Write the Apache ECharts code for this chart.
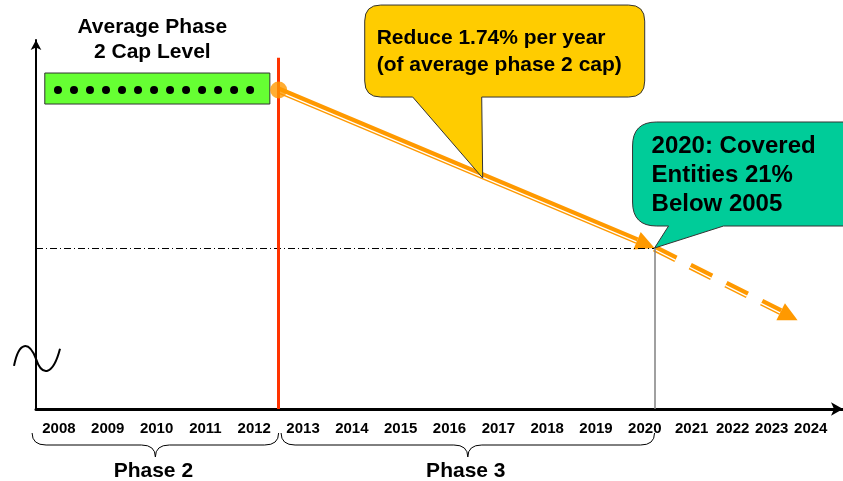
<!DOCTYPE html>
<html>
<head>
<meta charset="utf-8">
<script src="https://cdn.jsdelivr.net/npm/echarts@6/dist/echarts.min.js"></script>
<style>
html, body { margin: 0; padding: 0; background: #fff; }
#chart { width: 843px; height: 481px; }
</style>
</head>
<body>
<div id="chart"></div>
<script>
// year labels and where they sit on the axis (the last four are squeezed in the source picture)
const years = ['2008', '2009', '2010', '2011', '2012', '2013', '2014', '2015', '2016',
    '2017', '2018', '2019', '2020', '2021', '2022', '2023', '2024'];
const yearPos = [2008, 2009, 2010, 2011, 2012, 2013, 2014, 2015, 2016,
    2017, 2018, 2019, 2020, 2020.96, 2021.8, 2022.6, 2023.4];

const X_MIN = 2007.53, X_MAX = 2024.06;
const Y_MIN = 57.6, Y_MAX = 106.65;

// average phase 2 cap (index = 100)
const capLevel = 100;
const capSpan = [2007.71, 2012.32];
const capBand = [98.14, 102.26];
const capDots = [2007.98, 2011.93];

const phase2End = 2012.5;
const target2020 = [2020.2, 79];
// linear reduction, then the dashed outlook past 2020
const trend = [[2012.5, 100, 2020.2, 79]];
const outlook = [[2020.2, 79, 2023.13, 69.4]];

const phases = ['Phase 2', 'Phase 3'];
const phaseSpans = [[2007.45, 2012.5], [2012.55, 2020.2]];

const calloutText = ['Reduce 1.74% per year\n(of average phase 2 cap)', '2020: Covered\nEntities 21%\nBelow 2005'];
const calloutAt = [[2016.68, 88.3], [2020.2, 79]];

const breakAt = 64.4;

const FONT = '"Liberation Sans", Arial, sans-serif';
const ORANGE = '#FF9900';

// box geometry of each callout, relative to its pointer tip
const calloutBoxes = [
    {l: -118, t: -173, r: 162, b: -81, rad: 16, p0: -70, p1: -1, fill: '#FFCC00', size: 21, lh: 27, pad: 12},
    {l: -22, t: -126, r: 215, b: -22, rad: 24, p0: 14, p1: 69, fill: '#00CC99', size: 24, lh: 29, pad: 19}
];

function renderCallout(params, api) {
    const tip = api.coord([api.value(0), api.value(1)]);
    const c = calloutBoxes[params.dataIndex];
    const L = tip[0] + c.l, T = tip[1] + c.t, R = tip[0] + c.r, B = tip[1] + c.b, r = c.rad;
    const P0 = tip[0] + c.p0, P1 = tip[0] + c.p1;
    const d = `M${L + r},${T} L${R - r},${T} Q${R},${T} ${R},${T + r} L${R},${B - r} Q${R},${B} ${R - r},${B} ` +
        `L${P1},${B} L${tip[0]},${tip[1]} L${P0},${B} L${L + r},${B} Q${L},${B} ${L},${B - r} L${L},${T + r} Q${L},${T} ${L + r},${T} Z`;
    return {
        type: 'group',
        children: [
            {type: 'path', shape: {pathData: d}, style: {fill: c.fill, stroke: '#333', lineWidth: 1}},
            {type: 'text', style: {
                text: calloutText[params.dataIndex], x: L + c.pad, y: (T + B) / 2 + 1,
                verticalAlign: 'middle', textAlign: 'left', fill: '#000',
                font: `bold ${c.size}px ${FONT}`, lineHeight: c.lh
            }}
        ]
    };
}

function renderArrow(dashed) {
    return function (params, api) {
        const a = api.coord([api.value(0), api.value(1)]);
        const b = api.coord([api.value(2), api.value(3)]);
        const dx = b[0] - a[0], dy = b[1] - a[1], len = Math.hypot(dx, dy);
        const ux = dx / len, uy = dy / len;
        const head = 19, half = 9.5;
        const base = [b[0] - ux * head, b[1] - uy * head];
        const nx = -uy * 1.4, ny = ux * 1.4;
        const dash = dashed ? [24, 16] : null;
        return {
            type: 'group',
            children: [
                {type: 'line', shape: {x1: a[0], y1: a[1], x2: base[0], y2: base[1]},
                    style: {stroke: ORANGE, lineWidth: 7, lineDash: dash}},
                {type: 'line', shape: {x1: a[0] + nx, y1: a[1] + ny, x2: base[0] + nx, y2: base[1] + ny},
                    style: {stroke: '#fff', lineWidth: 1.3, lineDash: dash}},
                {type: 'polygon', shape: {points: [b, [base[0] - uy * half, base[1] + ux * half], [base[0] + uy * half, base[1] - ux * half]]},
                    style: {fill: ORANGE}}
            ]
        };
    };
}

function renderBrace(params, api) {
    const pa = api.coord([api.value(0), Y_MIN]);
    const x0 = pa[0], x1 = api.coord([api.value(1), Y_MIN])[0];
    const t = pa[1] + 24, h = 12, d = 24, r = 14, xm = (x0 + x1) / 2;
    const path = `M${x0},${t} Q${x0},${t + h} ${x0 + r},${t + h} L${xm - r},${t + h} Q${xm},${t + h} ${xm},${t + d} ` +
        `Q${xm},${t + h} ${xm + r},${t + h} L${x1 - r},${t + h} Q${x1},${t + h} ${x1},${t}`;
    return {
        type: 'group',
        children: [
            {type: 'path', shape: {pathData: path}, style: {fill: 'none', stroke: '#000', lineWidth: 1}},
            {type: 'text', style: {
                text: phases[params.dataIndex], x: xm - 2, y: pa[1] + 62,
                textAlign: 'center', verticalAlign: 'middle', fill: '#000', font: `bold 21px ${FONT}`
            }}
        ]
    };
}

function renderBreak(params, api) {
    const p = api.coord([X_MIN, api.value(0)]);
    const x = p[0], y = p[1];
    const d = `M${x - 22},${y + 8} C${x - 17},${y - 17} ${x - 7},${y - 17} ${x},${y + 1} ` +
        `C${x + 6},${y + 19} ${x + 17},${y + 18} ${x + 24},${y - 9}`;
    return {type: 'path', shape: {pathData: d}, style: {fill: 'none', stroke: '#000', lineWidth: 2}};
}

const chart = echarts.init(document.getElementById('chart'));
chart.setOption({
    animation: false,
    grid: {left: 36, right: 0, top: 40, bottom: 72},
    xAxis: {
        type: 'value', min: X_MIN, max: X_MAX,
        axisLine: {onZero: false, symbol: ['none', 'arrow'], symbolSize: [10, 12],
            lineStyle: {color: '#000', width: 3}},
        axisTick: {show: false},
        splitLine: {show: false},
        axisLabel: {
            customValues: yearPos,
            margin: 12,
            color: '#000', fontSize: 15, fontWeight: 'bold', fontFamily: FONT,
            formatter: function (v) {
                let best = 0;
                yearPos.forEach(function (p, i) { if (Math.abs(p - v) < Math.abs(yearPos[best] - v)) best = i; });
                return years[best];
            }
        }
    },
    yAxis: {
        type: 'value', min: Y_MIN, max: Y_MAX,
        axisLine: {show: true, onZero: false, symbol: ['none', 'arrow'], symbolSize: [8, 10],
            lineStyle: {color: '#000', width: 2}},
        axisTick: {show: false},
        axisLabel: {show: false},
        splitLine: {show: false}
    },
    series: [
        {
            name: 'cap', type: 'line', data: [], z: 1, silent: true,
            markArea: {
                silent: true,
                itemStyle: {color: '#66FF33', borderColor: '#333', borderWidth: 1},
                label: {show: true, position: 'top', distance: 8, color: '#000',
                    fontSize: 21, fontWeight: 'bold', fontFamily: FONT, lineHeight: 25, offset: [-5, 0],
                    formatter: 'Average Phase\n2 Cap Level'},
                data: [[{coord: [capSpan[0], capBand[1]]}, {coord: [capSpan[1], capBand[0]]}]]
            },
            markLine: {
                silent: true, symbol: 'none', label: {show: false},
                data: [
                    [{coord: [capDots[0], capLevel], lineStyle: {color: '#000', width: 8, type: [0.01, 16], cap: 'round'}},
                        {coord: [capDots[1] + 0.01, capLevel]}],
                    [{coord: [X_MIN, target2020[1]], lineStyle: {color: '#000', width: 1, type: [7, 3, 1, 3]}},
                        {coord: target2020}],
                    [{coord: target2020, lineStyle: {color: '#808080', width: 1.5, type: 'solid'}},
                        {coord: [target2020[0], Y_MIN]}]
                ]
            }
        },
        {name: 'trend', type: 'custom', z: 3, silent: true, renderItem: renderArrow(false), data: trend},
        {name: 'outlook', type: 'custom', z: 3, silent: true, renderItem: renderArrow(true), data: outlook},
        {name: 'callouts', type: 'custom', z: 4, silent: true, renderItem: renderCallout, data: calloutAt},
        {
            name: 'start', type: 'scatter', z: 5, silent: true, symbolSize: 17,
            itemStyle: {color: ORANGE}, data: [[phase2End, capLevel]]
        },
        {
            name: 'boundary', type: 'line', data: [], z: 6, silent: true,
            markLine: {
                silent: true, symbol: 'none', label: {show: false},
                lineStyle: {color: '#FF3300', width: 3, type: 'solid'},
                data: [[{coord: [phase2End, Y_MIN]}, {coord: [phase2End, 104.3]}]]
            }
        },
        {name: 'phases', type: 'custom', z: 2, silent: true, renderItem: renderBrace, data: phaseSpans},
        {name: 'break', type: 'custom', z: 7, silent: true, renderItem: renderBreak, data: [[breakAt]],
            encode: {y: 0}}
    ]
});
</script>
</body>
</html>
